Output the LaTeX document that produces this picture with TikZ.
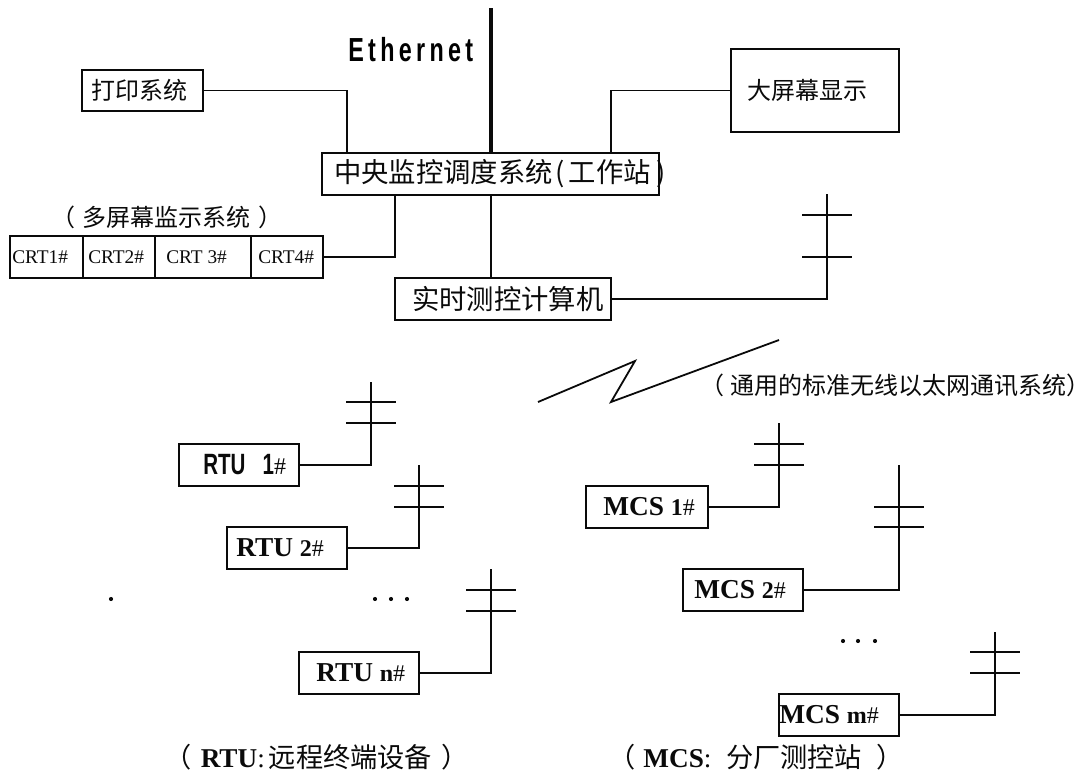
\documentclass[tikz,border=0pt]{standalone}
\usepackage{fontspec}
\usepackage{tikz}
\usetikzlibrary{calc,positioning}
\setmainfont{Liberation Serif}
\newfontfamily\hanfont{Noto Sans CJK SC}
\newfontfamily\latinfont[FakeStretch=0.7]{Liberation Sans}
\definecolor{RuleCol}{RGB}{10,10,10}
\tikzset{
  sysbox/.style={draw=RuleCol, line width=1.35pt, inner sep=0pt, outer sep=0pt},
  sysline/.style={line width=1.35pt, draw=RuleCol},
  busline/.style={line width=2.6pt, draw=RuleCol},
  hanlab/.style={font=\fontsize{18}{19}\selectfont\hanfont, inner sep=0pt, text=RuleCol},
  hanbig/.style={font=\fontsize{20.5}{21}\selectfont\hanfont, inner sep=0pt, text=RuleCol},
  capt/.style={font=\fontsize{20.4}{21}\selectfont\hanfont, inner sep=0pt, text=RuleCol},
  termlab/.style={font=\fontsize{20.5}{21}\selectfont\bfseries, inner sep=0pt, text=RuleCol},
  crtlab/.style={font=\fontsize{14.5}{15}\selectfont, inner sep=0pt, text=RuleCol},
  dotlab/.style={circle, fill=RuleCol, inner sep=1.1pt}
}
% mast: name, x, top y, upper tick y, lower tick y, half width
\newcommand{\SysMast}[6]{%
  \coordinate (#1) at (#2,#3);
  \coordinate (#1u) at (#2,#4);
  \coordinate (#1v) at (#2,#5);
  \draw[sysline] (#1u) ++(-#6,0) -- ++(2*#6,0);
  \draw[sysline] (#1v) ++(-#6,0) -- ++(2*#6,0);
}
\newcommand{\SysBox}[6]{%
  \node[sysbox, minimum width=#4*0.75pt, minimum height=42*0.75pt, anchor=north west] (#1) at (#2,#3) {};
  \node[termlab, anchor=west] (#1t) at ($(#1.west)+(#5,0)$) {#6};
}
\newcommand{\SysNum}[1]{{\fontsize{18}{18}\selectfont #1\mdseries\#}}

\begin{document}
\begin{tikzpicture}[x=0.75pt,y=-0.75pt]
  \useasboundingbox (0,0) rectangle (1091,772);
  % centre
  \node[sysbox, minimum width=337*0.75pt, minimum height=42*0.75pt, anchor=north west] (central) at (322,153) {};
  \node[hanbig, anchor=west] (centralt) at ($(central.west)+(12,0)$) {中央监控调度系统\kern2pt(\kern3pt 工作站\kern4pt)};
  \node[sysbox, minimum width=216*0.75pt, minimum height=42*0.75pt, anchor=north west] (rtc) at (395,278) {};
  \node[hanbig, anchor=west] (rtct) at ($(rtc.west)+(17,0)$) {实时测控计算机};
  \node[sysbox, minimum width=121*0.75pt, minimum height=41*0.75pt, anchor=north west] (printer) at (82,70) {};
  \node[hanlab, anchor=west] (printert) at ($(printer.west)+(9,0)$) {打印系统};
  \node[sysbox, minimum width=168*0.75pt, minimum height=83*0.75pt, anchor=north west] (screen) at (731,49) {};
  \node[hanlab, anchor=west] (screent) at ($(screen.west)+(16,0)$) {大屏幕显示};
  \coordinate (busTop) at (491,8);
  \draw[busline] (busTop) -- (busTop |- central.north);
  \node[font=\fontsize{25}{26}\selectfont\latinfont\bfseries\addfontfeature{LetterSpace=13}, inner sep=0pt, anchor=west] (eth) at (348,50) {Ethernet};
  \draw[sysline] (printer.east) -| ($(central.north west)+(25,0)$);
  \draw[sysline] (screen.west) -| ($(central.north west)+(289,0)$);
  % crt row
  \node[hanlab] (crtcap) at (167,217) {（\kern6pt 多屏幕监示系统\kern6pt）};
  \foreach \nm/\xa/\boxw/\xt/\lab in {a/10/73/2/CRT1\#,b/83/72/5/CRT2\#,c/155/96/11/CRT 3\#,d/251/72/7/CRT4\#}{%
    \node[sysbox, minimum width=\boxw*0.75pt, minimum height=42*0.75pt, anchor=north west] (crt\nm) at (\xa,236) {};
    \node[crtlab, anchor=west] (crt\nm t) at ($(crt\nm.west)+(\xt,0)$) {\lab};
  }
  \draw[sysline] (crtd.east) -| ($(central.south west)+(73,0)$);
  \draw[sysline] (central.south -| busTop) -- (rtc.north -| busTop);
  \SysMast{mastc}{827}{194}{215}{257}{25}
  \draw[sysline] (rtc.east) -| (mastc);
  % radio link
  \coordinate (za) at (538,402);
  \coordinate (zb) at (635,361);
  \coordinate (zc) at (611,402);
  \coordinate (zd) at (779,340);
  \draw[sysline] (za) -- (zb) -- (zc) -- (zd);
  \node[hanlab, anchor=west] (radio) at (700,385) {（\kern5pt 通用的标准无线以太网通讯系统）};
  % terminals
  \SysBox{rtua}{179}{444}{120}{24}{{\fontsize{22}{22}\selectfont\latinfont\bfseries RTU\ \ \ 1}\SysNum{}}
  \SysBox{rtub}{227}{527}{120}{9}{RTU \SysNum{2}}
  \SysBox{rtun}{299}{652}{120}{17}{RTU \SysNum{n}}
  \SysBox{mcsa}{586}{486}{122}{17}{MCS \SysNum{1}}
  \SysBox{mcsb}{683}{569}{120}{11}{MCS \SysNum{2}}
  \SysBox{mcsm}{779}{694}{120}{0}{MCS \SysNum{m}}
  \foreach \nm/\xa/\ya/\yb/\yc in {rtua/371/382/402/423,rtub/419/465/486/507,rtun/491/569/590/611}{%
    \SysMast{\nm m}{\xa}{\ya}{\yb}{\yc}{25}
    \draw[sysline] (\nm m) |- (\nm.east);
  }
  \foreach \nm/\xa/\ya/\yb/\yc in {mcsa/779/423/444/465,mcsb/899/465/507/527,mcsm/995/632/652/673}{%
    \SysMast{\nm m}{\xa}{\ya}{\yb}{\yc}{25}
    \draw[sysline] (\nm m) |- (\nm.east);
  }
  % dots
  \foreach \xa/\ya in {111/599,375/599,391/599,407/599,843/641,858/641,875/641}{%
    \node[dotlab] at (\xa,\ya) {};
  }
  % captions
  \node[capt, anchor=west] (capr) at (164,757) {（\kern7pt{\rmfamily\bfseries RTU}{\rmfamily :}\kern3pt 远程终端设备\kern7pt）};
  \node[capt, anchor=west] (capm) at (608,757) {（\kern6pt{\rmfamily\bfseries MCS}{\rmfamily :}\kern11pt 分厂测控站\kern11pt）};
\end{tikzpicture}
\end{document}
